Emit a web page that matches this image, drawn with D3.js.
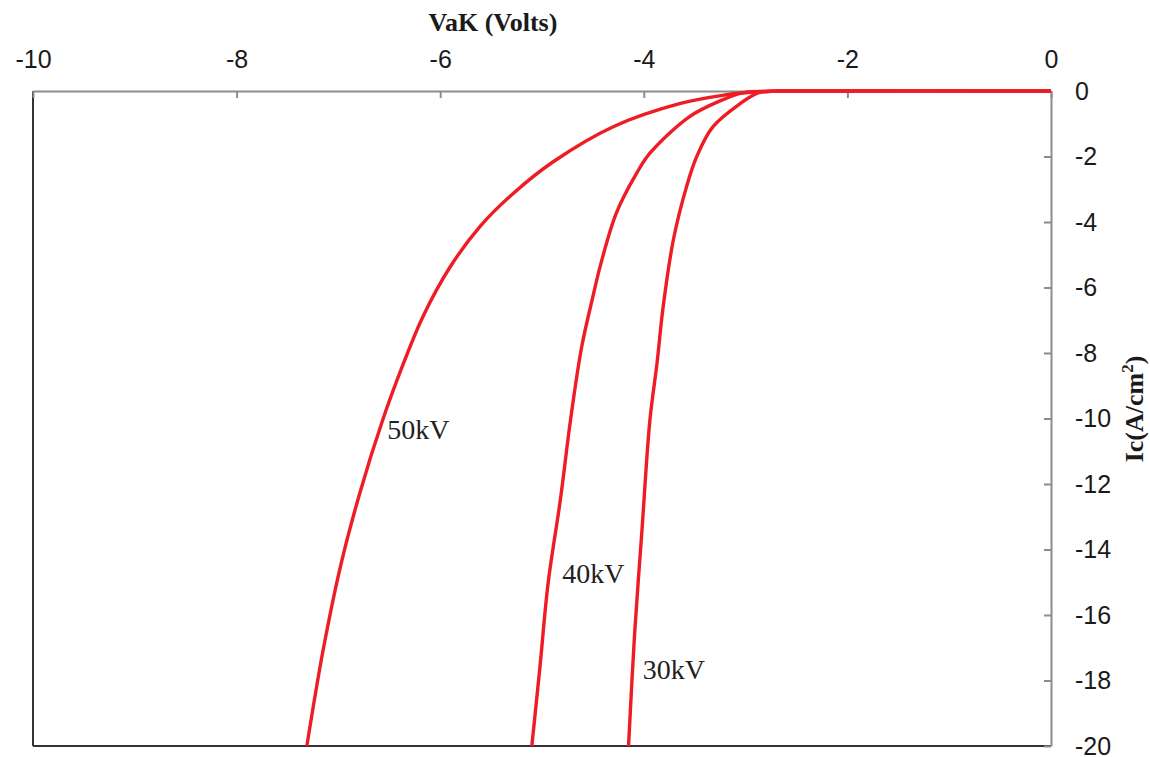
<!DOCTYPE html>
<html>
<head>
<meta charset="utf-8">
<script src="https://cdn.jsdelivr.net/npm/d3@7"></script>
<style>
  html, body { margin: 0; padding: 0; background: #fff; }
  svg { display: block; }
</style>
</head>
<body>
<svg id="chart" width="1150" height="757"></svg>
<script>
// Anode-cathode voltage (V) vs collector current density (A/cm^2)
const seriesNames = ["50kV", "40kV", "30kV"];

const v50 = [-7.31, -7.15, -6.98, -6.79, -6.56, -6.36, -6.17, -5.90, -5.61, -5.28, -4.89, -4.30, -3.64, -3.20, -2.93, -2.75, -2.60, 0];
const i50 = [-20, -17.07, -14.52, -12.28, -10.0, -8.31, -6.89, -5.36, -4.14, -3.12, -2.16, -1.09, -0.38, -0.12, -0.03, -0.005, 0, 0];

const v40 = [-5.10, -5.02, -4.94, -4.82, -4.72, -4.61, -4.50, -4.43, -4.27, -4.07, -3.94, -3.55, -3.25, -3.02, -2.80, -2.60, 0];
const i40 = [-20, -17.58, -15.03, -12.49, -10.05, -7.81, -6.28, -5.37, -3.73, -2.51, -1.90, -0.78, -0.30, -0.05, -0.01, 0, 0];

const v30 = [-4.15, -4.09, -4.02, -3.94, -3.87, -3.81, -3.71, -3.58, -3.48, -3.32, -3.05, -2.89, -2.75, -2.60, 0];
const i30 = [-20, -16.56, -13.5, -10.05, -8.31, -6.59, -4.55, -2.92, -2.0, -1.09, -0.38, -0.07, -0.01, 0, 0];

const xTicks = [-10, -8, -6, -4, -2, 0];
const yTicks = [0, -2, -4, -6, -8, -10, -12, -14, -16, -18, -20];

// label anchor points (V, I) for each curve label (left edge, baseline)
const labelV = [-6.56, -4.84, -4.05];
const labelI = [-10.63, -15.02, -17.95];

const svg = d3.select("#chart");
const plotLeft = 33, plotRight = 1051, plotTop = 91, plotBottom = 746;

const x = d3.scaleLinear().domain([-10, 0]).range([plotLeft, plotRight]);
const y = d3.scaleLinear().domain([0, -20]).range([plotTop, plotBottom]);

const gray = "#8c8c8c";
const dark = "#333333";
const red = "#ee1c25";

// left and bottom frame lines
svg.append("line").attr("x1", plotLeft).attr("x2", plotLeft).attr("y1", plotTop).attr("y2", plotBottom)
  .attr("stroke", dark).attr("stroke-width", 2);
svg.append("line").attr("x1", plotLeft).attr("x2", plotRight).attr("y1", plotBottom).attr("y2", plotBottom)
  .attr("stroke", dark).attr("stroke-width", 2);

// top x axis
const xAxis = svg.append("g")
  .attr("transform", `translate(0,${plotTop})`)
  .call(d3.axisTop(x).tickValues(xTicks).tickSizeInner(-7).tickSizeOuter(0).tickPadding(23)
    .tickFormat(d => String(d)));
xAxis.select(".domain").attr("stroke", gray).attr("stroke-width", 2);
xAxis.selectAll(".tick line").attr("stroke", gray).attr("stroke-width", 2);
xAxis.selectAll(".tick text")
  .attr("font-family", "'Liberation Sans', Arial, sans-serif")
  .attr("font-size", 25).attr("fill", "#1a1a1a");

// right y axis
const yAxis = svg.append("g")
  .attr("transform", `translate(${plotRight},0)`)
  .call(d3.axisRight(y).tickValues(yTicks).tickSizeInner(-7).tickSizeOuter(0).tickPadding(24)
    .tickFormat(d => String(d)));
yAxis.select(".domain").attr("stroke", gray).attr("stroke-width", 2);
yAxis.selectAll(".tick line").attr("stroke", gray).attr("stroke-width", 2);
yAxis.selectAll(".tick text")
  .attr("font-family", "'Liberation Sans', Arial, sans-serif")
  .attr("font-size", 25).attr("fill", "#1a1a1a");

// axis titles
svg.append("text")
  .attr("x", 493).attr("y", 31)
  .attr("text-anchor", "middle")
  .attr("font-family", "'Liberation Serif', 'Times New Roman', serif")
  .attr("font-weight", "bold").attr("font-size", 26).attr("fill", "#1a1a1a")
  .text("VaK (Volts)");

const yTitle = svg.append("text")
  .attr("transform", "translate(1143,409) rotate(-90)")
  .attr("text-anchor", "middle")
  .attr("font-family", "'Liberation Serif', 'Times New Roman', serif")
  .attr("font-weight", "bold").attr("font-size", 26).attr("fill", "#1a1a1a");
yTitle.append("tspan").text("Ic(A/cm");
yTitle.append("tspan").attr("font-size", 17).attr("dy", -10).text("2");
yTitle.append("tspan").attr("dy", 10).text(")");

// curves
const series = [
  { name: seriesNames[0], v: v50, i: i50 },
  { name: seriesNames[1], v: v40, i: i40 },
  { name: seriesNames[2], v: v30, i: i30 }
];

const line = d3.line()
  .x(d => x(d[0]))
  .y(d => y(d[1]))
  .curve(d3.curveCatmullRom.alpha(0.5));

svg.append("g")
  .selectAll("path")
  .data(series)
  .join("path")
  .attr("d", s => line(s.v.map((v, k) => [v, s.i[k]])))
  .attr("fill", "none")
  .attr("stroke", red)
  .attr("stroke-width", 3.4)
  .attr("stroke-linejoin", "round");

// curve labels
svg.append("g")
  .selectAll("text")
  .data(series)
  .join("text")
  .attr("x", (s, k) => x(labelV[k]) + 4)
  .attr("y", (s, k) => y(labelI[k]))
  .attr("font-family", "'Liberation Serif', 'Times New Roman', serif")
  .attr("font-size", 28).attr("fill", "#231f20")
  .text(s => s.name);
</script>
</body>
</html>
